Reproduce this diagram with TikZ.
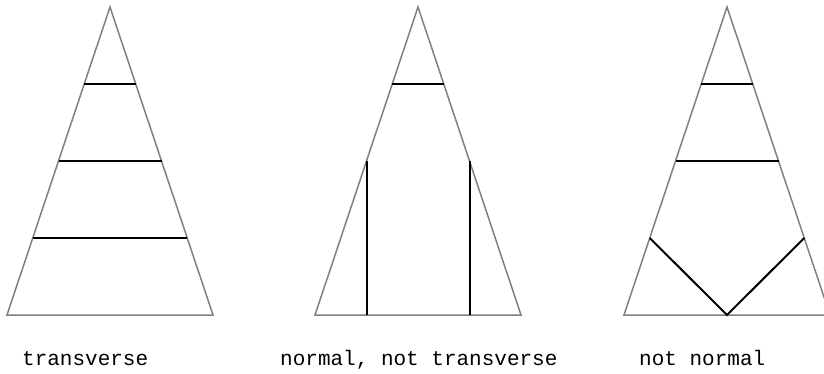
\documentclass[tikz,border=0pt]{standalone}
\usepackage{fontspec}
\setmonofont{Liberation Mono}
\usetikzlibrary{calc}

\begin{document}
\begin{tikzpicture}[x=1pt, y=-1pt,
    outline/.style={gray, line width=1.5pt},
    cut/.style={black, line width=2pt},
    caption/.style={font=\ttfamily\fontsize{21}{25}\selectfont, anchor=base west, inner sep=0pt}]
    \useasboundingbox (0,0) rectangle (824,374);

    % Triangles (apex x, half base 103)
    \foreach \n/\x in {1/110, 2/418, 3/727} {
        \coordinate (top\n) at (\x,7);
        \coordinate (bl\n) at (\x-103,315);
        \coordinate (br\n) at (\x+103,315);
        \draw[outline] (top\n) -- (bl\n) -- (br\n) -- cycle;
    }

    % Left: level cuts
    \foreach \t in {0.25, 0.5, 0.75}
        \draw[cut] ($(top1)!\t!(bl1)$) -- ($(top1)!\t!(br1)$);

    % Middle: one cut, two vertical walls
    \draw[cut] ($(top2)!0.25!(bl2)$) -- ($(top2)!0.25!(br2)$);
    \coordinate (wl) at ($(top2)!0.5!(bl2)$);
    \coordinate (wr) at ($(top2)!0.5!(br2)$);
    \draw[cut] (wl) -- (wl |- bl2);
    \draw[cut] (wr) -- (wr |- br2);

    % Right: two cuts and a V to the base
    \foreach \t in {0.25, 0.5}
        \draw[cut] ($(top3)!\t!(bl3)$) -- ($(top3)!\t!(br3)$);
    \draw[cut] ($(top3)!0.75!(bl3)$) -- ($(bl3)!0.5!(br3)$) -- ($(top3)!0.75!(br3)$);

    % Captions
    \node[caption] (cap1) at (22,365) {transverse};
    \node[caption] (cap2) at (280,365) {normal, not transverse};
    \node[caption] (cap3) at (639,365) {not normal};
\end{tikzpicture}
\end{document}
